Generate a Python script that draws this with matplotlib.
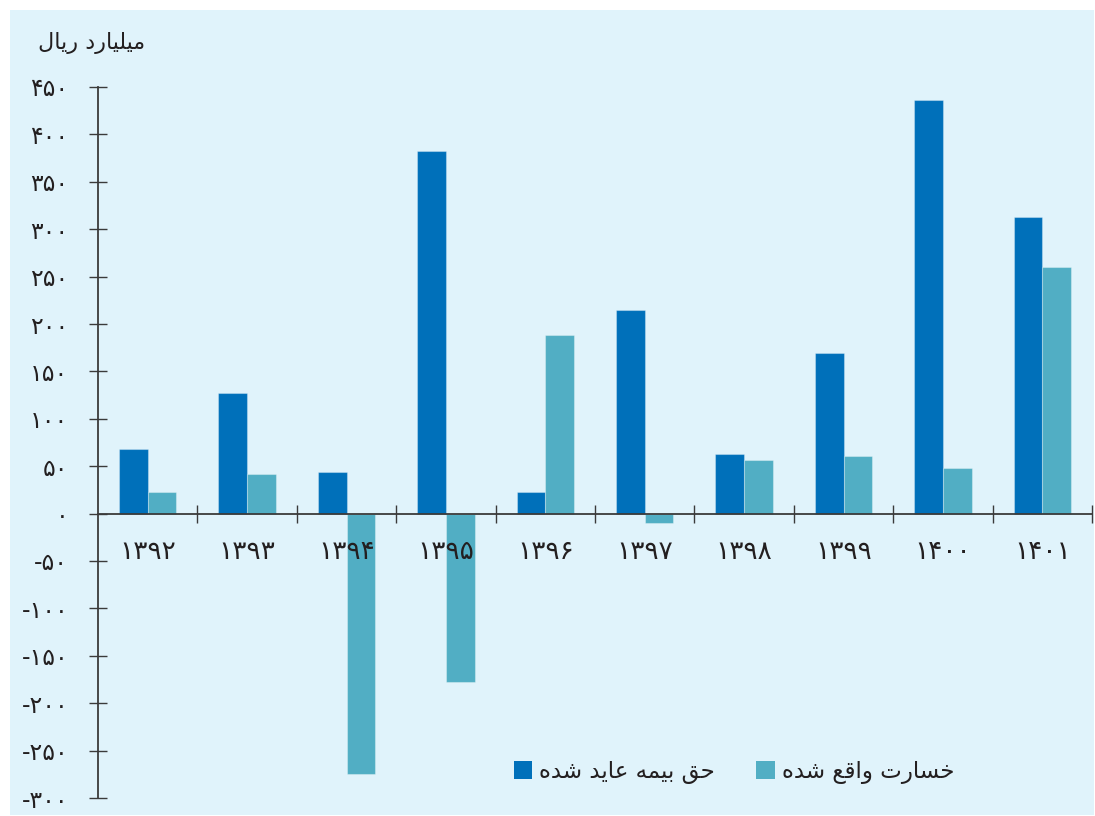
import matplotlib
matplotlib.use("Agg")
import matplotlib.pyplot as plt
from matplotlib.patches import Rectangle, Patch
import numpy as np

# ---- data -------------------------------------------------------------
years = ["۱۳۹۲", "۱۳۹۳", "۱۳۹۴", "۱۳۹۵", "۱۳۹۶",
         "۱۳۹۷", "۱۳۹۸", "۱۳۹۹", "۱۴۰۰", "۱۴۰۱"]
premium_earned = [68, 127, 44, 383, 23, 215, 63, 169, 436, 313]
claims_incurred = [23, 42, -275, -178, 188, -10, 57, 61, 48, 260]
y_ticks = [450, 400, 350, 300, 250, 200, 150, 100, 50, 0,
           -50, -100, -150, -200, -250, -300]
y_tick_labels = ["۴۵۰", "۴۰۰", "۳۵۰", "۳۰۰", "۲۵۰", "۲۰۰", "۱۵۰", "۱۰۰", "۵۰", "۰",
                 "-۵۰", "-۱۰۰", "-۱۵۰", "-۲۰۰", "-۲۵۰", "-۳۰۰"]
unit_label = "میلیارد ریال"
series_names = ["حق بیمه عاید شده", "خسارت واقع شده"]

# ---- minimal Persian shaping (presentation forms + visual order) -------
# letter: (isolated, final, initial, medial); two entries = right-joining only
FORMS = {
    "ا": ("\uFE8D", "\uFE8E"),
    "آ": ("\uFE81", "\uFE82"),
    "ب": ("\uFE8F", "\uFE90", "\uFE91", "\uFE92"),
    "پ": ("\uFB56", "\uFB57", "\uFB58", "\uFB59"),
    "ت": ("\uFE95", "\uFE96", "\uFE97", "\uFE98"),
    "ث": ("\uFE99", "\uFE9A", "\uFE9B", "\uFE9C"),
    "ج": ("\uFE9D", "\uFE9E", "\uFE9F", "\uFEA0"),
    "ح": ("\uFEA1", "\uFEA2", "\uFEA3", "\uFEA4"),
    "خ": ("\uFEA5", "\uFEA6", "\uFEA7", "\uFEA8"),
    "د": ("\uFEA9", "\uFEAA"),
    "ذ": ("\uFEAB", "\uFEAC"),
    "ر": ("\uFEAD", "\uFEAE"),
    "ز": ("\uFEAF", "\uFEB0"),
    "س": ("\uFEB1", "\uFEB2", "\uFEB3", "\uFEB4"),
    "ش": ("\uFEB5", "\uFEB6", "\uFEB7", "\uFEB8"),
    "ع": ("\uFEC9", "\uFECA", "\uFECB", "\uFECC"),
    "ق": ("\uFED5", "\uFED6", "\uFED7", "\uFED8"),
    "ل": ("\uFEDD", "\uFEDE", "\uFEDF", "\uFEE0"),
    "م": ("\uFEE1", "\uFEE2", "\uFEE3", "\uFEE4"),
    "ن": ("\uFEE5", "\uFEE6", "\uFEE7", "\uFEE8"),
    "ه": ("\uFEE9", "\uFEEA", "\uFEEB", "\uFEEC"),
    "و": ("\uFEED", "\uFEEE"),
    "ی": ("\uFBFC", "\uFBFD", "\uFBFE", "\uFBFF"),
}


def shape_fa(text):
    out = []
    n = len(text)
    for i, ch in enumerate(text):
        if ch not in FORMS:
            out.append(ch)
            continue
        f = FORMS[ch]
        prev = text[i - 1] if i > 0 else ""
        nxt = text[i + 1] if i + 1 < n else ""
        joins_prev = prev in FORMS and len(FORMS[prev]) == 4
        joins_next = nxt in FORMS and len(f) == 4
        if joins_prev and joins_next:
            out.append(f[3])
        elif joins_prev:
            out.append(f[1])
        elif joins_next:
            out.append(f[2])
        else:
            out.append(f[0])
    return "".join(reversed(out))


# ---- styling -----------------------------------------------------------
DARK = "#0070BA"
LIGHT = "#51AEC4"
PANEL = "#E0F3FB"
INK = "#231F20"
AXIS = "#3A3A3A"

plt.rcParams["font.family"] = ["DejaVu Sans"]

W, H = 1095, 816
fig = plt.figure(figsize=(W / 100, H / 100), dpi=100, facecolor="white")
fig.patches.append(Rectangle((10 / W, 1 / H), (1094 - 10) / W, (815 - 10) / H,
                             transform=fig.transFigure, facecolor=PANEL,
                             edgecolor="none", zorder=-10))

ax = fig.add_axes([98 / W, 1 - 798 / H, (1092 - 98) / W, (798 - 87) / H])
ax.set_facecolor("none")
ax.set_zorder(1)
ax.set_axisbelow(False)   # year labels sit on top of the negative bars

x = np.arange(len(years))
bw = 0.289
ax.bar(x - bw / 2, premium_earned, width=bw, color=DARK,
       edgecolor=(1, 1, 1, 0.3), linewidth=0.8, zorder=2)
ax.bar(x + bw / 2, claims_incurred, width=bw, color=LIGHT,
       edgecolor=(1, 1, 1, 0.3), linewidth=0.8, zorder=2)

ax.set_xlim(-0.5, len(years) - 0.5)
ax.set_ylim(-300, 450)

for s in ("top", "right"):
    ax.spines[s].set_visible(False)
ax.spines["bottom"].set_position(("data", 0))
for s in ("left", "bottom"):
    ax.spines[s].set_color(AXIS)
    ax.spines[s].set_linewidth(1.3)
    ax.spines[s].set_zorder(3)

ax.set_yticks(y_ticks)
ax.set_yticklabels(y_tick_labels)
ax.tick_params(axis="y", direction="inout", length=13, width=1.0,
               color=AXIS, pad=15, labelsize=17, labelcolor=INK)

ax.set_xticks(x)
ax.set_xticklabels(years)
ax.set_xticks(x + 0.5, minor=True)
ax.tick_params(axis="x", which="major", length=0, pad=18,
               labelsize=19, labelcolor=INK)
ax.tick_params(axis="x", which="minor", direction="inout", length=13,
               width=1.0, color=AXIS)

fig.text(145 / W, 1 - 43 / H, shape_fa(unit_label), ha="right", va="center",
         fontsize=16, color=INK)

handles = [Patch(facecolor=DARK, edgecolor="none"),
           Patch(facecolor=LIGHT, edgecolor="none")]
fig.legend(handles, [shape_fa(s) for s in series_names], ncol=2,
           loc="center", bbox_to_anchor=(734 / W, 1 - 772 / H),
           frameon=False, fontsize=16.5, labelcolor=INK,
           handlelength=0.8, handleheight=0.8, handletextpad=0.3,
           columnspacing=1.8)

fig.savefig("out.png", dpi=100, facecolor="white")
